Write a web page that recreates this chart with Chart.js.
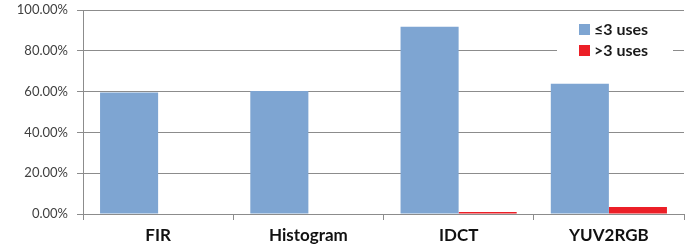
<!DOCTYPE html>
<html><head><meta charset="utf-8">
<script src="https://cdn.jsdelivr.net/npm/chart.js@4/dist/chart.umd.min.js"></script>
<style>html,body{margin:0;padding:0;background:#fff}#wrap{width:693px;height:252px;position:relative}</style>
</head><body><div id="wrap"><canvas id="c" width="693" height="252"></canvas></div>
<script>
const categories = ["FIR", "Histogram", "IDCT", "YUV2RGB"];
const seriesNames = ["≤3 uses", ">3 uses"];
const lowUses = [59.5, 60.3, 91.8, 63.8];
const highUses = [0, 0, 1.0, 3.4];
const yTicks = [0, 20, 40, 60, 80, 100];
const colors = ["#7EA5D2", "#EC1F27"];

const legendPlugin = {
  id: 'insideLegend',
  afterDraw(chart) {
    const ctx = chart.ctx;
    const x0 = 557, y0 = 17;
    ctx.save();
    ctx.fillStyle = '#fff';
    ctx.fillRect(x0, y0, 116, 44);
    ctx.font = 'bold 16px Lato, "Open Sans", sans-serif';
    ctx.textBaseline = 'middle';
    chart.data.datasets.forEach((ds, i) => {
      const y = 29 + i * 21;
      ctx.fillStyle = ds.backgroundColor;
      ctx.fillRect(579, y - 5, 11, 11);
      ctx.fillStyle = '#1a1a1a';
      ctx.fillText(ds.label, 594, y + 1);
    });
    ctx.restore();
  }
};

new Chart(document.getElementById('c'), {
  type: 'bar',
  data: {
    labels: categories,
    datasets: [
      { label: seriesNames[0], data: lowUses, backgroundColor: colors[0] },
      { label: seriesNames[1], data: highUses, backgroundColor: colors[1] }
    ]
  },
  options: {
    responsive: false,
    animation: false,
    devicePixelRatio: 1,
    layout: { padding: { top: 10, right: 9, left: 0, bottom: 0 } },
    datasets: { bar: { categoryPercentage: 0.773, barPercentage: 1.0 } },
    plugins: { legend: { display: false }, tooltip: { enabled: false } },
    scales: {
      x: {
        grid: { display: true, drawOnChartArea: false, drawTicks: true, tickLength: 6, color: '#8c8c8c', offset: true },
        border: { display: true, color: '#8c8c8c' },
        ticks: { color: '#111', font: { family: 'Lato, "Open Sans", sans-serif', size: 17, weight: 'bold' }, padding: 5 },
        afterFit(s) { s.height = 38; s.paddingLeft = 0; s.paddingRight = 0; }
      },
      y: {
        min: 0, max: 100,
        afterBuildTicks(s) { s.ticks = yTicks.map(v => ({ value: v })); },
        grid: { color: '#8c8c8c', tickLength: 6 },
        border: { display: true, color: '#8c8c8c' },
        ticks: {
          color: '#404040',
          font: { family: 'Lato, "Open Sans", sans-serif', size: 13 },
          padding: 9,
          callback: v => v.toFixed(2) + '%'
        },
        afterFit(s) { s.width = 83; s.paddingTop = 0; s.paddingBottom = 0; }
      }
    }
  },
  plugins: [legendPlugin]
});
</script></body></html>
